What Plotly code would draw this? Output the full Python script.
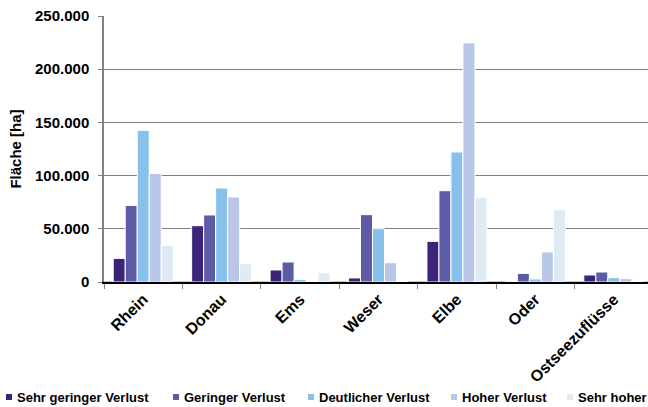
import plotly.graph_objects as go

# ---- data ----
categories = ["Rhein", "Donau", "Ems", "Weser", "Elbe", "Oder", "Ostseezuflüsse"]
keine_angabe = [900, 900, 900, 900, 900, 900, 900]
sehr_geringer_verlust = [22200, 52900, 11300, 3800, 38200, 0, 6600]
geringer_verlust = [72000, 63000, 18800, 63300, 85800, 8100, 9400]
deutlicher_verlust = [142500, 88300, 2500, 50100, 122200, 2800, 4000]
hoher_verlust = [102000, 79900, 0, 18100, 224700, 28200, 3100]
sehr_hoher_verlust = [34400, 17200, 8800, 0, 79500, 68000, 0]
sonstige = [900, 900, 900, 900, 900, 900, 900]

y_ticks = [0, 50000, 100000, 150000, 200000, 250000]
y_title = "Fläche [ha]"
# legend labels as visible in the reference (last one is cut at the picture edge there)
legend_labels = ["Sehr geringer Verlust", "Geringer Verlust", "Deutlicher Verlust",
                 "Hoher Verlust", "Sehr hoher"]

series = [
    ("Keine Angabe", keine_angabe, "#c8c8c8", False),
    ("Sehr geringer Verlust", sehr_geringer_verlust, "#3a2379", True),
    ("Geringer Verlust", geringer_verlust, "#5c5ca6", True),
    ("Deutlicher Verlust", deutlicher_verlust, "#86c0eb", True),
    ("Hoher Verlust", hoher_verlust, "#b8c7e7", True),
    ("Sehr hoher Verlust", sehr_hoher_verlust, "#deebf5", True),
    ("Sonstige", sonstige, "#c8c8c8", False),
]

FONT = "Liberation Sans, Arial, Helvetica, sans-serif"
W, H = 648, 407
L, T, B = 104, 16, 125
plot_w = W - L
plot_h = H - T - B
band_px = plot_w / 6.936
slot = 12 / band_px

fig = go.Figure()
for k, (name, vals, color, _) in enumerate(series):
    fig.add_bar(
        x=categories, y=vals, name=name,
        width=slot, offset=(k - 3.5) * slot,
        marker=dict(color=color, line=dict(color="white", width=1 if color != "#c8c8c8" else 0)),
        showlegend=False,
    )

# legend drawn as text entries with small colour squares (reference legend is cut at the right edge)
leg_text_x = [15, 182, 317, 460, 576]
leg_y_px = 397
shapes = []
annotations = []
legend_colors = [s[2] for s in series if s[3]]
for label, color, tx in zip(legend_labels, legend_colors, leg_text_x):
    mx = tx - 6
    x0 = (mx - 3 - L) / plot_w
    x1 = (mx + 3 - L) / plot_w
    yc = (T + plot_h - leg_y_px) / plot_h
    y0 = yc - 3 / plot_h
    y1 = yc + 3 / plot_h
    shapes.append(dict(type="rect", xref="paper", yref="paper", x0=x0, x1=x1, y0=y0, y1=y1,
                       fillcolor=color, line=dict(width=0)))
    annotations.append(dict(xref="paper", yref="paper", x=(tx - L) / plot_w, y=yc,
                            xanchor="left", yanchor="middle", showarrow=False, text=label,
                            font=dict(family=FONT, size=13, color="#000000", weight="bold")))

fig.update_layout(
    width=W, height=H,
    margin=dict(l=L, r=0, t=T, b=B, autoexpand=False),
    barmode="overlay",
    plot_bgcolor="white", paper_bgcolor="white",
    separators=",.",
    showlegend=False,
    shapes=shapes,
    annotations=annotations,
    font=dict(family=FONT, color="#000000"),
)
fig.update_xaxes(
    range=[-0.5, 6.436],
    showline=True, linecolor="#000000", linewidth=1.5,
    ticks="outside", tickson="boundaries", ticklen=5, tickcolor="#808080", tickwidth=1,
    tickangle=-45,
    tickfont=dict(family=FONT, size=16, color="#000000", weight="bold"),
    showgrid=False,
)
fig.update_yaxes(
    range=[0, 250000], tickvals=y_ticks, tickformat=",d",
    showline=True, linecolor="#808080", linewidth=1.5,
    ticks="outside", ticklen=4, tickcolor="#808080", tickwidth=1.2,
    ticklabelstandoff=6,
    showgrid=True, gridcolor="#808080", gridwidth=1.2,
    zeroline=False,
    tickfont=dict(family=FONT, size=15, color="#000000", weight="bold"),
    title=dict(text=y_title, standoff=10,
               font=dict(family=FONT, size=15, color="#000000", weight="bold")),
)

fig.write_html(
    "out.html",
    config={"displayModeBar": False},
    post_script="document.body.style.margin='0';document.body.style.overflow='hidden';",
)
